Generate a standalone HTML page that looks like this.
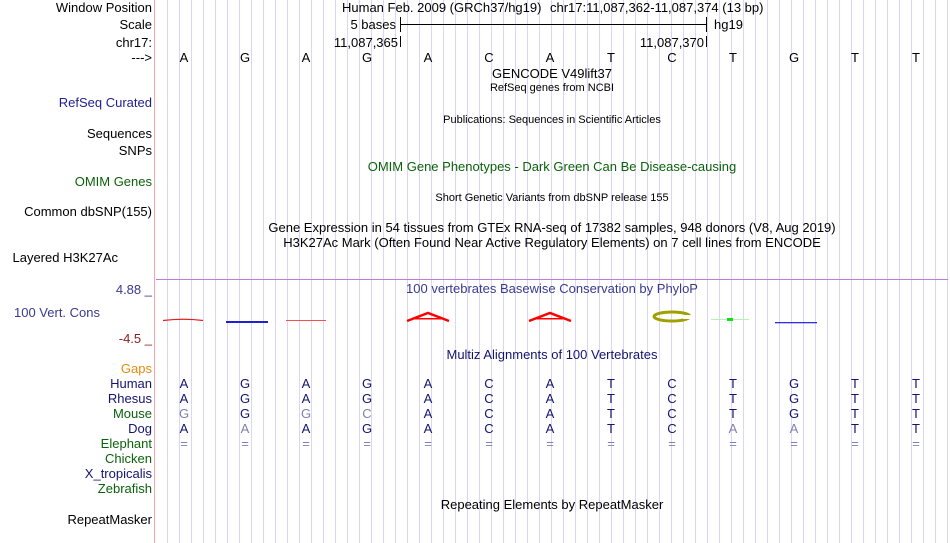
<!DOCTYPE html>
<html><head><meta charset="utf-8"><style>
html,body{margin:0;padding:0;background:#fff;width:950px;height:543px;overflow:hidden}
svg{display:block}
text{font-family:"Liberation Sans",sans-serif;font-size:13px}
.s{font-size:11px}
</style></head><body>
<svg width="950" height="543" viewBox="0 0 950 543" xmlns="http://www.w3.org/2000/svg">
<defs>
<pattern id="vl" x="167" y="0" width="12" height="543" patternUnits="userSpaceOnUse">
<rect x="0" y="0" width="1" height="543" fill="#d9d7f3"/>
</pattern>
</defs>
<rect x="160" y="0" width="790" height="543" fill="url(#vl)"/>
<rect x="154" y="0" width="1" height="543" fill="#f4a6a6"/>
<rect x="156" y="279" width="792" height="1" fill="#c07ad8"/>

<g text-anchor="end" fill="#000">
<text x="152" y="12">Window Position</text>
<text x="152" y="29">Scale</text>
<text x="152" y="47">chr17:</text>
<text x="152" y="62">---&gt;</text>
<text x="152" y="107" fill="#1f1f8f">RefSeq Curated</text>
<text x="152" y="138">Sequences</text>
<text x="152" y="155">SNPs</text>
<text x="152" y="186" fill="#0b620b">OMIM Genes</text>
<text x="152" y="216">Common dbSNP(155)</text>
<text x="118" y="262">Layered H3K27Ac</text>
<text x="152" y="294" fill="#3a3a90">4.88 _</text>
<text x="100" y="317" fill="#3a3a90">100 Vert. Cons</text>
<text x="152" y="343" fill="#8c2020">-4.5 _</text>
<text x="152" y="373" fill="#e88a10">Gaps</text>
<text x="152" y="388" fill="#14146e">Human</text>
<text x="152" y="403" fill="#14146e">Rhesus</text>
<text x="152" y="418" fill="#0b620b">Mouse</text>
<text x="152" y="433" fill="#14146e">Dog</text>
<text x="152" y="448" fill="#0b620b">Elephant</text>
<text x="152" y="463" fill="#0b620b">Chicken</text>
<text x="152" y="478" fill="#14146e">X_tropicalis</text>
<text x="152" y="493" fill="#0b620b">Zebrafish</text>
<text x="152" y="524">RepeatMasker</text>
</g>

<text x="342" y="12">Human Feb. 2009 (GRCh37/hg19)</text>
<text x="550" y="12">chr17:11,087,362-11,087,374 (13 bp)</text>
<text x="396" y="29" text-anchor="end">5 bases</text>
<rect x="400" y="24" width="306" height="1" fill="#000"/>
<rect x="400" y="17" width="1" height="15" fill="#000"/>
<rect x="706" y="17" width="1" height="15" fill="#000"/>
<text x="714" y="29">hg19</text>
<text x="398" y="47" text-anchor="end">11,087,365</text>
<rect x="400" y="36" width="1" height="11" fill="#000"/>
<text x="704" y="47" text-anchor="end">11,087,370</text>
<rect x="706" y="36" width="1" height="11" fill="#000"/>

<g text-anchor="middle">
<text x="184" y="62">A</text><text x="245" y="62">G</text><text x="306" y="62">A</text><text x="367" y="62">G</text><text x="428" y="62">A</text><text x="489" y="62">C</text><text x="550" y="62">A</text><text x="611" y="62">T</text><text x="672" y="62">C</text><text x="733" y="62">T</text><text x="794" y="62">G</text><text x="855" y="62">T</text><text x="916" y="62">T</text>

<text x="552" y="78">GENCODE V49lift37</text>
<text x="552" y="91" class="s">RefSeq genes from NCBI</text>
<text x="552" y="123" class="s">Publications: Sequences in Scientific Articles</text>
<text x="552" y="171" fill="#0b620b">OMIM Gene Phenotypes - Dark Green Can Be Disease-causing</text>
<text x="552" y="201" class="s">Short Genetic Variants from dbSNP release 155</text>
<text x="552" y="232">Gene Expression in 54 tissues from GTEx RNA-seq of 17382 samples, 948 donors (V8, Aug 2019)</text>
<text x="552" y="247">H3K27Ac Mark (Often Found Near Active Regulatory Elements) on 7 cell lines from ENCODE</text>
<text x="552" y="293" fill="#3a3a90">100 vertebrates Basewise Conservation by PhyloP</text>
<text x="552" y="359" fill="#14146e">Multiz Alignments of 100 Vertebrates</text>
<text x="552" y="509">Repeating Elements by RepeatMasker</text>
</g>

<path d="M163 320.5 Q184 318 203 320.5" stroke="#e02020" stroke-width="1.3" fill="none"/>
<rect x="226" y="321" width="42" height="2" fill="#2020d0"/>
<rect x="286" y="320" width="40" height="1" fill="#f05050"/>
<path d="M407 321 L428 313 L449 321" stroke="#f00" stroke-width="2.5" fill="none"/>
<rect x="415" y="318" width="26" height="1.5" fill="#f00"/>
<path d="M529 321 L550 313 L571 321" stroke="#f00" stroke-width="2.5" fill="none"/>
<rect x="537" y="318" width="26" height="1.5" fill="#f00"/>
<ellipse cx="672" cy="316.5" rx="18" ry="4.5" stroke="#a0a000" stroke-width="3" fill="none"/>
<rect x="683" y="315" width="10" height="4" fill="#fff"/>
<rect x="711" y="319" width="38" height="1" fill="#b8f0b8"/>
<rect x="727" y="318" width="6" height="3" fill="#10e010"/>
<rect x="775" y="322" width="42" height="1.3" fill="#3030e0"/>

<g text-anchor="middle" fill="#14146e">
<text x="184" y="388">A</text><text x="245" y="388">G</text><text x="306" y="388">A</text><text x="367" y="388">G</text><text x="428" y="388">A</text><text x="489" y="388">C</text><text x="550" y="388">A</text><text x="611" y="388">T</text><text x="672" y="388">C</text><text x="733" y="388">T</text><text x="794" y="388">G</text><text x="855" y="388">T</text><text x="916" y="388">T</text>
<text x="184" y="403">A</text><text x="245" y="403">G</text><text x="306" y="403">A</text><text x="367" y="403">G</text><text x="428" y="403">A</text><text x="489" y="403">C</text><text x="550" y="403">A</text><text x="611" y="403">T</text><text x="672" y="403">C</text><text x="733" y="403">T</text><text x="794" y="403">G</text><text x="855" y="403">T</text><text x="916" y="403">T</text>
<text x="184" y="418" fill="#8080b0">G</text><text x="245" y="418">G</text><text x="306" y="418" fill="#8080b0">G</text><text x="367" y="418" fill="#8080b0">C</text><text x="428" y="418">A</text><text x="489" y="418">C</text><text x="550" y="418">A</text><text x="611" y="418">T</text><text x="672" y="418">C</text><text x="733" y="418">T</text><text x="794" y="418">G</text><text x="855" y="418">T</text><text x="916" y="418">T</text>
<text x="184" y="433">A</text><text x="245" y="433" fill="#8080b0">A</text><text x="306" y="433">A</text><text x="367" y="433">G</text><text x="428" y="433">A</text><text x="489" y="433">C</text><text x="550" y="433">A</text><text x="611" y="433">T</text><text x="672" y="433">C</text><text x="733" y="433" fill="#8080b0">A</text><text x="794" y="433" fill="#8080b0">A</text><text x="855" y="433">T</text><text x="916" y="433">T</text>
<g fill="#8080b0">
<text x="184" y="448">=</text><text x="245" y="448">=</text><text x="306" y="448">=</text><text x="367" y="448">=</text><text x="428" y="448">=</text><text x="489" y="448">=</text><text x="550" y="448">=</text><text x="611" y="448">=</text><text x="672" y="448">=</text><text x="733" y="448">=</text><text x="794" y="448">=</text><text x="855" y="448">=</text><text x="916" y="448">=</text>
</g>
</g>
</svg>
</body></html>
